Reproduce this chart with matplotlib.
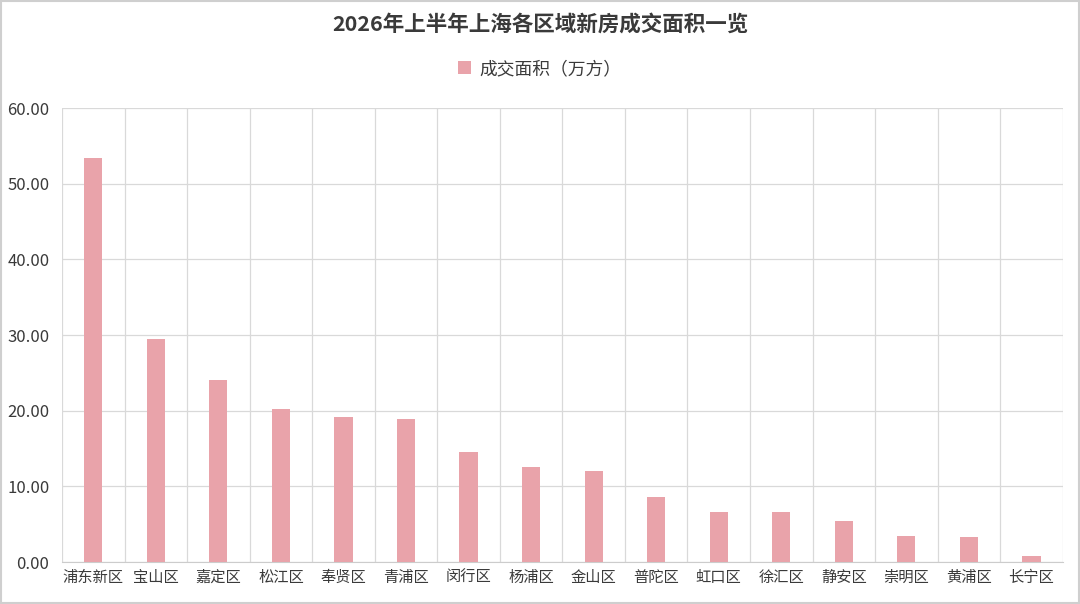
import numpy as np
import matplotlib
matplotlib.use("Agg")
import matplotlib.pyplot as plt
from matplotlib.ticker import FormatStrFormatter, FixedLocator

plt.rcParams['font.family'] = ['Noto Sans CJK SC', 'DejaVu Sans']

districts = ['浦东新区', '宝山区', '嘉定区', '松江区', '奉贤区', '青浦区', '闵行区', '杨浦区',
             '金山区', '普陀区', '虹口区', '徐汇区', '静安区', '崇明区', '黄浦区', '长宁区']
area = [53.4, 29.5, 24.0, 20.2, 19.2, 18.9, 14.5, 12.5,
        12.0, 8.6, 6.6, 6.6, 5.4, 3.5, 3.3, 0.75]
series_name = '成交面积（万方）'
title = '2026年上半年上海各区域新房成交面积一览'

bar_color = '#E9A3AA'
grid_color = '#d9d9d9'
text_color = '#3a3a3a'

fig = plt.figure(figsize=(10.8, 6.04), dpi=100)
ax = fig.add_axes([0.0574, 0.0695, 0.9266, 0.7515])

x = np.arange(len(districts))
ax.bar(x, area, width=0.29, color=bar_color, label=series_name, zorder=3)

ax.set_xlim(-0.5, len(districts) - 0.5)
ax.set_ylim(0, 60)
ax.set_yticks(np.arange(0, 61, 10))
ax.yaxis.set_major_formatter(FormatStrFormatter('%.2f'))
ax.set_xticks(x)
ax.set_xticklabels(districts)
ax.xaxis.set_minor_locator(FixedLocator(np.arange(-0.5, len(districts), 1)))

ax.grid(axis='y', which='major', color=grid_color, linewidth=0.9, zorder=0)
ax.grid(axis='x', which='minor', color=grid_color, linewidth=0.9, zorder=0)
for s in ['top', 'right', 'left']:
    ax.spines[s].set_visible(False)
ax.spines['bottom'].set_color('#cccccc')
ax.tick_params(axis='both', which='both', length=0, colors=text_color)
ax.tick_params(axis='x', labelsize=11, pad=5)
ax.tick_params(axis='y', labelsize=12, pad=9)

fig.text(0.5, 0.96, title, ha='center', va='center', fontsize=15.5,
         fontweight='bold', color=text_color)
ax.legend(loc='center', bbox_to_anchor=(0.5, 0.886), bbox_transform=fig.transFigure,
          frameon=False, fontsize=12.8, handlelength=0.7, handleheight=0.7,
          handletextpad=0.5, labelcolor=text_color)

fig.patches.append(plt.Rectangle((0.001, 0.002), 0.998, 0.996, transform=fig.transFigure,
                                 fill=False, edgecolor='#cfcfcf', linewidth=1.5))

fig.savefig('out.png', dpi=100)
